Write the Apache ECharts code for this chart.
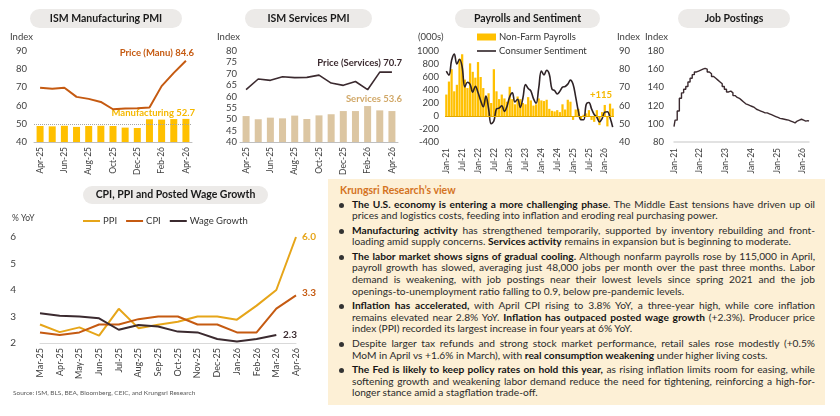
<!DOCTYPE html>
<html>
<head>
<meta charset="utf-8">
<script src="https://cdn.jsdelivr.net/npm/echarts@6/dist/echarts.min.js"></script>
<style>
    body { margin: 0; background: #fff; }
    #chart { position: absolute; left: 0; top: 0; width: 840px; height: 416px; }
    #view {
        position: absolute; left: 328px; top: 179px; width: 497px; height: 226px;
        background: #FDF0D6; font-family: Lato, "Open Sans", sans-serif; color: #2b2b2b;
        box-sizing: border-box; padding: 5px 10px 0 0;
    }
    #view .hd { padding-left: 12px; font-size: 10.5px; font-weight: bold; color: #D4731F; line-height: 12px; height: 14.5px; }
    #view .p { position: relative; padding-left: 24px; margin-bottom: 2.7px; }
    #view .p::before {
        content: ''; position: absolute; left: 11px; top: 4px; width: 5px; height: 5px;
        border-radius: 50%; background: #333;
    }
    #view .l { font-size: 10.2px; line-height: 11.7px; height: 11.7px; text-align: justify; text-align-last: justify; }
    #view .l.e { text-align-last: left; }
    #view b { color: #141414; }
</style>
</head>
<body>
<div id="chart"></div>
<div id="view">
    <div class="hd">Krungsri Research’s view</div>
    <div class="p">
        <div class="l"><b>The U.S. economy is entering a more challenging phase</b>. The Middle East tensions have driven up oil</div>
        <div class="l e">prices and logistics costs, feeding into inflation and eroding real purchasing power.</div>
    </div>
    <div class="p">
        <div class="l"><b>Manufacturing activity</b> has strengthened temporarily, supported by inventory rebuilding and front-</div>
        <div class="l e">loading amid supply concerns. <b>Services activity</b> remains in expansion but is beginning to moderate.</div>
    </div>
    <div class="p">
        <div class="l"><b>The labor market shows signs of gradual cooling.</b> Although nonfarm payrolls rose by 115,000 in April,</div>
        <div class="l">payroll growth has slowed, averaging just 48,000 jobs per month over the past three months. Labor</div>
        <div class="l">demand is weakening, with job postings near their lowest levels since spring 2021 and the job</div>
        <div class="l e">openings-to-unemployment ratio falling to 0.9, below pre-pandemic levels.</div>
    </div>
    <div class="p">
        <div class="l"><b>Inflation has accelerated,</b> with April CPI rising to 3.8% YoY, a three-year high, while core inflation</div>
        <div class="l">remains elevated near 2.8% YoY. <b>Inflation has outpaced posted wage growth</b> (+2.3%). Producer price</div>
        <div class="l e">index (PPI) recorded its largest increase in four years at 6% YoY.</div>
    </div>
    <div class="p">
        <div class="l">Despite larger tax refunds and strong stock market performance, retail sales rose modestly (+0.5%</div>
        <div class="l e">MoM in April vs +1.6% in March), with <b>real consumption weakening</b> under higher living costs.</div>
    </div>
    <div class="p">
        <div class="l"><b>The Fed is likely to keep policy rates on hold this year,</b> as rising inflation limits room for easing, while</div>
        <div class="l">softening growth and weakening labor demand reduce the need for tightening, reinforcing a high-for-</div>
        <div class="l e">longer stance amid a stagflation trade-off.</div>
    </div>
</div>
<script>
// ---- data ----
const pmiMonths = ['Apr-25', 'May-25', 'Jun-25', 'Jul-25', 'Aug-25', 'Sep-25', 'Oct-25', 'Nov-25', 'Dec-25', 'Jan-26', 'Feb-26', 'Mar-26', 'Apr-26'];
const manuPmi = [48.8, 48.6, 48.9, 48.3, 48.8, 48.9, 48.8, 47.9, 47.7, 52.5, 52.3, 52.6, 52.7];
const manuPrice = [69.8, 69.2, 69.8, 64.8, 63.7, 62.0, 58.0, 58.4, 58.6, 58.9, 70.7, 78.0, 84.6];
const servPmi = [51.4, 50.0, 50.7, 50.4, 51.6, 50.1, 51.7, 52.2, 53.6, 53.6, 55.8, 53.9, 53.6];
const servPrice = [63.0, 67.7, 67.1, 68.7, 68.3, 68.4, 69.4, 65.9, 64.9, 66.6, 63.0, 70.7, 70.7];

// Jan-21 .. Apr-26
const payrolls = [
    330, 530, 720, 380, 480, 880, 950, 560, 430, 810, 680, 590,
    830, 600, 430, 300, 350, 200, 720, 380, 260, 330, 270, 220,
    450, 260, 180, 300, 260, 200, 180, 290, 240, 160, 180, 270,
    240, 230, 250, 110, 80, 70, 90, 60, 180, 100, 250, 220,
    -60, 100, 110, -60, 20, 40, 90, -60, -90, 90, -140, 60,
    170, -160, 190, 115
];
const sentiment = [
    79.0, 76.8, 84.9, 88.3, 82.9, 85.5, 81.2, 70.3, 72.8, 71.7, 67.4, 70.6,
    67.2, 62.8, 59.4, 65.2, 58.4, 50.0, 51.5, 58.2, 58.6, 59.9, 56.8, 59.7,
    64.9, 67.0, 62.0, 63.5, 59.0, 64.2, 71.5, 69.4, 68.1, 63.8, 61.3, 69.7,
    79.0, 76.9, 79.4, 77.2, 69.1, 68.2, 66.4, 67.9, 70.1, 70.5, 71.8, 74.0,
    71.7, 64.7, 57.0, 52.2, 52.2, 60.7, 61.7, 58.2, 55.1, 53.6, 51.0, 52.9,
    56.4, 56.6, 53.3, 48.2
];
const jobPostings = [
    97, 104, 114, 128, 134, 138, 141, 146, 150, 154, 157, 158,
    159, 160, 161, 160, 157, 155, 152, 150, 148, 146, 144, 141,
    138, 135, 136, 134, 131, 129, 128, 126, 124, 122, 121, 120,
    119, 118, 116, 115, 114, 113, 112, 112, 111, 110, 109, 108,
    107, 106, 105.5, 105, 104.5, 104, 103, 102, 101, 103, 104, 105,
    104, 103, 103.5, 103
];

const cpiMonths = ['Mar-25', 'Apr-25', 'May-25', 'Jun-25', 'Jul-25', 'Aug-25', 'Sep-25', 'Oct-25', 'Nov-25', 'Dec-25', 'Jan-26', 'Feb-26', 'Mar-26', 'Apr-26'];
const ppi = [2.7, 2.41, 2.59, 2.28, 3.29, 2.56, 2.69, 2.8, 3.0, 3.0, 2.88, 3.41, 4.0, 6.0];
const cpi = [2.4, 2.3, 2.4, 2.7, 2.7, 2.9, 3.0, 3.0, 2.7, 2.7, 2.4, 2.4, 3.3, 3.8];
const wage = [3.12, 3.03, 3.0, 2.93, 2.5, 2.68, 2.62, 2.43, 2.4, 2.15, 2.06, 2.15, 2.3, null];

function monthLabels(year, count) {
    const names = ['Jan', 'Feb', 'Mar', 'Apr', 'May', 'Jun', 'Jul', 'Aug', 'Sep', 'Oct', 'Nov', 'Dec'];
    const out = [];
    for (let i = 0; i < count; i++) {
        out.push(names[i % 12] + '-' + String(year + Math.floor(i / 12)).slice(-2));
    }
    return out;
}
const longMonths = monthLabels(2021, payrolls.length);

// ---- chart ----
const FONT = 'Lato, "Open Sans", sans-serif';
const GOLD = '#FFC000';
const DARK = '#3B2A2F';
const ORANGE = '#C55A11';
const LABEL = { fontSize: 9.5, color: '#404040', fontFamily: FONT };

const chart = echarts.init(document.getElementById('chart'));

function xCat(grid, data, opts) {
    return Object.assign({
        type: 'category', gridIndex: grid, data: data, boundaryGap: true,
        axisTick: { show: false },
        axisLine: { show: true, lineStyle: { color: '#BFBFBF', width: 1 } },
        axisLabel: { rotate: 90, interval: 1, fontSize: 8.5, color: '#404040', fontFamily: FONT, margin: 5 }
    }, opts || {});
}
function yVal(grid, min, max, step, margin, opts) {
    return Object.assign({
        type: 'value', gridIndex: grid, min: min, max: max, interval: step,
        splitLine: { show: false }, axisLine: { show: false }, axisTick: { show: false },
        axisLabel: Object.assign({ margin: margin }, LABEL)
    }, opts || {});
}
function txt(x, y, s, o) {
    o = o || {};
    return {
        type: 'text', x: x, y: y, silent: true,
        style: {
            text: s, fill: o.color || '#404040', fontSize: o.size || 9.5, fontWeight: o.bold ? 'bold' : 'normal',
            fontFamily: FONT, align: o.align || 'left', textAlign: o.align || 'left',
            verticalAlign: 'middle', textVerticalAlign: 'middle'
        }
    };
}
function pill(x, y, w, h, s) {
    return [
        { type: 'rect', shape: { x: x, y: y, width: w, height: h, r: h / 2 }, style: { fill: '#ECEAE8' }, silent: true },
        txt(x + w / 2, y + h / 2, s, { bold: true, size: 10.5, color: '#1a1a1a', align: 'center' })
    ];
}
const last = a => a[a.length - 1];

const option = {
    animation: false,
    textStyle: { fontFamily: FONT },
    grid: [
        { left: 34, top: 51, width: 158, height: 91, outerBoundsMode: 'none' },
        { left: 240, top: 51, width: 158, height: 91, outerBoundsMode: 'none' },
        { left: 445, top: 51, width: 169, height: 91, outerBoundsMode: 'none' },
        { left: 674, top: 51, width: 135, height: 91, outerBoundsMode: 'none' },
        { left: 40, top: 237, width: 256, height: 106, outerBoundsMode: 'none' }
    ],
    xAxis: [
        xCat(0, pmiMonths),
        xCat(1, pmiMonths),
        xCat(2, longMonths, { axisLine: { show: false, onZero: false }, axisLabel: { rotate: 90, interval: 5, fontSize: 8.5, color: '#404040', fontFamily: FONT, margin: 6 } }),
        xCat(3, longMonths, { boundaryGap: false, axisLine: { show: true, lineStyle: { color: '#D9D9D9', width: 1.5 } }, axisLabel: { rotate: 90, interval: 11, fontSize: 8.5, color: '#404040', fontFamily: FONT, margin: 6 } }),
        xCat(4, cpiMonths, { boundaryGap: false, axisLine: { show: true, lineStyle: { color: '#D9D9D9', width: 1 } }, axisLabel: { rotate: 90, interval: 0, fontSize: 9, color: '#404040', fontFamily: FONT, margin: 5 } })
    ],
    yAxis: [
        yVal(0, 40, 90, 10, 7),
        yVal(1, 40, 80, 5, 3),
        yVal(2, -400, 1000, 200, 6, { axisLabel: Object.assign({ margin: 6, formatter: v => String(v) }, LABEL) }),
        yVal(2, 40, 90, 10, 5, { position: 'right' }),
        yVal(3, 80, 180, 20, 10),
        yVal(4, 2, 6, 1, 24, { axisLabel: Object.assign({ margin: 24 }, LABEL, { fontSize: 10 }) })
    ],
    legend: [
        {
            data: ['Non-Farm Payrolls'], left: 477, top: 32, icon: 'rect', itemWidth: 19, itemHeight: 7,
            textStyle: { fontSize: 9.5, color: '#333', fontFamily: FONT, padding: [0, 0, 0, -2] }, padding: 0
        },
        {
            data: ['Consumer Sentiment'], left: 477, top: 46, icon: 'rect', itemWidth: 19, itemHeight: 1.6,
            textStyle: { fontSize: 9.5, color: '#333', fontFamily: FONT, padding: [0, 0, 0, -2] }, padding: 0
        },
        {
            data: ['PPI', 'CPI', 'Wage Growth'], left: 83, top: 216, icon: 'rect', itemWidth: 17, itemHeight: 2,
            itemGap: 9, textStyle: { fontSize: 9.5, color: '#333', fontFamily: FONT, padding: [0, 0, 0, -2] }, padding: 0
        }
    ],
    series: [
        {
            type: 'bar', xAxisIndex: 0, yAxisIndex: 0, data: manuPmi, barWidth: 7, itemStyle: { color: GOLD },
            markLine: { silent: true, symbol: 'none', label: { show: false }, lineStyle: { type: 'dotted', color: '#A6A6A6', width: 1 }, data: [{ yAxis: 50 }] }
        },
        { type: 'line', xAxisIndex: 0, yAxisIndex: 0, data: manuPrice, symbol: 'none', lineStyle: { color: ORANGE, width: 2 }, itemStyle: { color: ORANGE } },
        { type: 'bar', xAxisIndex: 1, yAxisIndex: 1, data: servPmi, barWidth: 7, itemStyle: { color: '#DCC6A2' } },
        { type: 'line', xAxisIndex: 1, yAxisIndex: 1, data: servPrice, symbol: 'none', lineStyle: { color: DARK, width: 1.6 }, itemStyle: { color: DARK } },
        {
            name: 'Non-Farm Payrolls', type: 'bar', xAxisIndex: 2, yAxisIndex: 2, data: payrolls, barCategoryGap: '15%',
            itemStyle: { color: GOLD },
            markLine: { silent: true, symbol: 'none', label: { show: false }, lineStyle: { type: 'solid', color: '#E0A800', width: 1 }, data: [{ yAxis: 0 }] }
        },
        {
            name: 'Consumer Sentiment', type: 'line', xAxisIndex: 2, yAxisIndex: 3, data: sentiment, smooth: 0.4,
            symbol: 'none', lineStyle: { color: '#2E2326', width: 1.6 }, itemStyle: { color: '#2E2326' }
        },
        { type: 'line', xAxisIndex: 3, yAxisIndex: 4, data: jobPostings, step: 'middle', symbol: 'none', lineStyle: { color: DARK, width: 1.4 }, itemStyle: { color: DARK } },
        { name: 'PPI', type: 'line', xAxisIndex: 4, yAxisIndex: 5, data: ppi, symbol: 'none', lineStyle: { color: '#E6A519', width: 2 }, itemStyle: { color: '#E6A519' } },
        { name: 'CPI', type: 'line', xAxisIndex: 4, yAxisIndex: 5, data: cpi, symbol: 'none', lineStyle: { color: ORANGE, width: 2 }, itemStyle: { color: ORANGE } },
        { name: 'Wage Growth', type: 'line', xAxisIndex: 4, yAxisIndex: 5, data: wage, symbol: 'none', lineStyle: { color: DARK, width: 2 }, itemStyle: { color: DARK } }
    ],
    graphic: [].concat(
        pill(30, 9, 152, 19, 'ISM Manufacturing PMI'),
        pill(245, 9, 127, 19, 'ISM Services PMI'),
        pill(455, 9, 145, 19, 'Payrolls and Sentiment'),
        pill(678, 9, 112, 19, 'Job Postings'),
        pill(83, 186, 185, 18, 'CPI, PPI and Posted Wage Growth'),
        [
            txt(10, 37, 'Index'),
            txt(217, 37, 'Index'),
            txt(418, 37, '(000s)'),
            txt(617, 37, 'Index'),
            txt(645, 37, 'Index'),
            txt(12, 218, '% YoY', { size: 8.5 }),
            txt(194, 53, 'Price (Manu) ' + last(manuPrice), { color: ORANGE, bold: true, align: 'right', size: 9.5 }),
            txt(195, 113, 'Manufacturing ' + last(manuPmi), { color: '#F5B800', bold: true, align: 'right', size: 9.5 }),
            txt(402, 63, 'Price (Services) ' + last(servPrice), { color: DARK, bold: true, align: 'right', size: 9.5 }),
            txt(402, 99, 'Services ' + last(servPmi), { color: '#D1A868', bold: true, align: 'right', size: 9.5 }),
            txt(590, 95, '+' + last(payrolls), { color: '#F5B800', bold: true, size: 9.5 }),
            txt(302, 237, last(ppi).toFixed(1), { color: '#E6A519', bold: true, size: 10 }),
            txt(302, 293, '3.3', { color: ORANGE, bold: true, size: 10 }),
            txt(283, 335, wage[wage.length - 2].toFixed(1), { color: DARK, bold: true, size: 10 }),
            txt(13, 393, 'Source: ISM, BLS, BEA, Bloomberg, CEIC, and Krungsri Research', { size: 6.5, color: '#595959' })
        ]
    )
};

chart.setOption(option);
</script>
</body>
</html>
